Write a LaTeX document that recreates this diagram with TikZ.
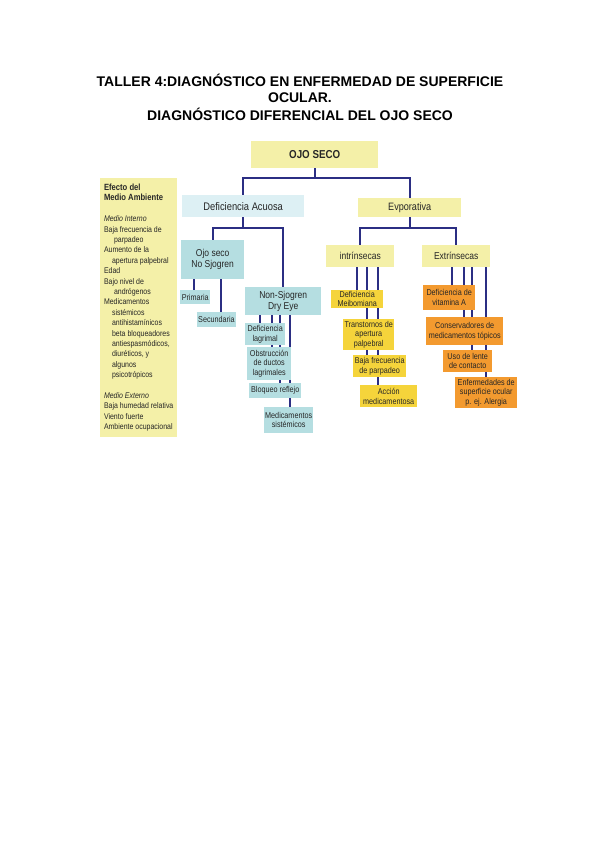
\documentclass[tikz,border=0pt]{standalone}
\usepackage{fontspec}
\setmainfont{Liberation Sans}
\newfontfamily\narrowsf[FakeStretch=0.85]{Liberation Sans}
\usepackage{tikz}
\usetikzlibrary{positioning,backgrounds}

\definecolor{paleyellow}{HTML}{F4F0A8}
\definecolor{paleblue}{HTML}{DDF0F4}
\definecolor{seablue}{HTML}{B5DEE1}
\definecolor{gold}{HTML}{F5D43B}
\definecolor{deeporange}{HTML}{F39A2F}
\definecolor{navy}{HTML}{2B2E83}

\begin{document}
\begin{tikzpicture}[
  x=1pt, y=-1pt,
  title/.style={anchor=base, font=\bfseries\fontsize{14}{16}\selectfont},
  box/.style={anchor=north west, inner sep=1pt, align=center, text=black!85},
  head/.style={box, fill=paleyellow, font=\narrowsf\fontsize{10}{12}\selectfont},
  acuo/.style={box, fill=paleblue, font=\narrowsf\fontsize{11}{12}\selectfont},
  sjo/.style={box, fill=seablue, font=\narrowsf\fontsize{10}{11}\selectfont},
  leafblue/.style={box, fill=seablue, font=\narrowsf\fontsize{8.5}{9.5}\selectfont},
  leafgold/.style={box, fill=gold, font=\narrowsf\fontsize{8.5}{9.5}\selectfont},
  leaforange/.style={box, fill=deeporange, font=\narrowsf\fontsize{8.5}{9.5}\selectfont},
  link/.style={draw=navy, line width=2pt}
]
\useasboundingbox (0,0) rectangle (600,848);

% titulo
\node[title] (title1) at (300,87) {TALLER 4:DIAGNÓSTICO EN ENFERMEDAD DE SUPERFICIE};
\node[title] (title2) at (300,102.5) {OCULAR.};
\node[title] (title3) at (300,121) {DIAGNÓSTICO DIFERENCIAL DEL OJO SECO};

% panel del medio ambiente
\node[box, fill=paleyellow, align=left, minimum width=77pt, minimum height=259pt,
  inner sep=3pt, anchor=north west, font=\narrowsf\fontsize{8.2}{10.4}\selectfont] (panel) at (100,178) {%
  {\bfseries\fontsize{9}{10.4}\selectfont Efecto del}\\
  {\bfseries\fontsize{9}{10.4}\selectfont Medio Ambiente}\\[10.4pt]
  \textit{Medio Interno}\\
  Baja frecuencia de\\
  \hspace*{10pt}parpadeo\\
  Aumento de la\\
  \hspace*{8pt}apertura palpebral\\
  Edad\\
  Bajo nivel de\\
  \hspace*{10pt}andrógenos\\
  Medicamentos\\
  \hspace*{8pt}sistémicos\\
  \hspace*{8pt}antihistamínicos\\
  \hspace*{8pt}beta bloqueadores\\
  \hspace*{8pt}antiespasmódicos,\\
  \hspace*{8pt}diuréticos, y\\
  \hspace*{8pt}algunos\\
  \hspace*{8pt}psicotrópicos\\[10.4pt]
  \textit{Medio Externo}\\
  Baja humedad relativa\\
  Viento fuerte\\
  Ambiente ocupacional};

% arbol
\node[head, font=\narrowsf\bfseries\fontsize{11.5}{13}\selectfont, minimum width=127pt, minimum height=27pt] (ojo) at (251,141) {OJO SECO};
\node[acuo, minimum width=122pt, minimum height=22pt] (acuosa) at (182,195) {Deficiencia Acuosa};
\node[head, font=\narrowsf\fontsize{10.7}{12}\selectfont, minimum width=103pt, minimum height=19pt] (evap) at (358,198) {Evporativa};
\node[head, minimum width=68pt, minimum height=22pt] (intr) at (326,245) {intrínsecas};
\node[head, minimum width=68pt, minimum height=22pt] (extr) at (422,245) {Extrínsecas};

\node[sjo, minimum width=63pt, minimum height=39pt] (ojosj) at (181,240) {Ojo seco\\No Sjogren};
\node[sjo, minimum width=76pt, minimum height=28pt] (nonsj) at (245,287) {Non-Sjogren\\Dry Eye};

\node[leafblue, minimum width=30pt, minimum height=14pt] (prim) at (180,290) {Primaria};
\node[leafblue, minimum width=38pt, minimum height=15pt] (secu) at (197,312) {Secundaria};

\node[leafblue, minimum width=40pt, minimum height=22pt] (deflag) at (245,323) {Deficiencia\\lagrimal};
\node[leafblue, minimum width=44pt, minimum height=33pt] (obst) at (247,347) {Obstrucción\\de ductos\\lagrimales};
\node[leafblue, minimum width=52pt, minimum height=15pt] (bloq) at (249,383) {Bloqueo reflejo};
\node[leafblue, minimum width=49pt, minimum height=26pt] (medsis) at (264,407) {Medicamentos\\sistémicos};

\node[leafgold, minimum width=52pt, minimum height=18pt] (meib) at (331,290) {Deficiencia\\Meibomiana};
\node[leafgold, minimum width=51pt, minimum height=31pt] (trans) at (343,319) {Transtornos de\\apertura\\palpebral};
\node[leafgold, minimum width=53pt, minimum height=22pt] (bajaf) at (353,355) {Baja frecuencia\\de parpadeo};
\node[leafgold, minimum width=57pt, minimum height=22pt] (accion) at (360,385) {Acción\\medicamentosa};

\node[leaforange, minimum width=52pt, minimum height=25pt] (vita) at (423,285) {Deficiencia de\\vitamina A};
\node[leaforange, minimum width=77pt, minimum height=28pt] (cons) at (426,317) {Conservadores de\\medicamentos tópicos};
\node[leaforange, minimum width=49pt, minimum height=22pt] (lente) at (443,350) {Uso de lente\\de contacto};
\node[leaforange, minimum width=62pt, minimum height=31pt] (enf) at (455,377) {Enfermedades de\\superficie ocular\\p. ej. Alergia};

\begin{scope}[on background layer]
\draw[link] (ojo.south) -- ++(0,10) -| (acuosa.north);
\draw[link] (ojo.south) -- ++(0,10) -| (evap.north);
\draw[link] (acuosa.south) -- ++(0,11) -| (ojosj.north);
\draw[link] (acuosa.south) -- ++(0,11) -| (nonsj.north);
\draw[link] (evap.south) -- ++(0,11) -| (intr.north);
\draw[link] (evap.south) -- ++(0,11) -| (extr.north);

% ojo seco no sjogren
\path (ojosj.south) ++(-19,0) coordinate (o1) ++(27,0) coordinate (o2);
\draw[link] (o1) -- (o1 |- prim.north);
\draw[link] (o2) -- (o2 |- secu.north);

% non-sjogren
\path (nonsj.south) ++(-23,0) coordinate (n1) ++(12,0) coordinate (n2)
  ++(8,0) coordinate (n3) ++(10,0) coordinate (n4);
\draw[link] (n1) -- (n1 |- deflag.north);
\draw[link] (n2) -- (n2 |- obst.north);
\draw[link] (n3) -- (n3 |- bloq.north);
\draw[link] (n4) -- (n4 |- medsis.north);

% intrinsecas
\path (intr.south) ++(-3,0) coordinate (i1) ++(10,0) coordinate (i2) ++(11,0) coordinate (i3);
\draw[link] (i1) -- (i1 |- meib.north);
\draw[link] (i2) -- (i2 |- trans.north);
\draw[link] (i2) -- (i2 |- bajaf.north);
\draw[link] (i3) -- (i3 |- accion.north);

% extrinsecas
\path (extr.south) ++(-4,0) coordinate (e1) ++(12,0) coordinate (e2)
  ++(8,0) coordinate (e3) ++(14,0) coordinate (e4);
\draw[link] (e1) -- (e1 |- vita.north);
\draw[link] (e2) -- (e2 |- cons.north);
\draw[link] (e3) -- (e3 |- lente.north);
\draw[link] (e4) -- (e4 |- enf.north);
\end{scope}
\end{tikzpicture}
\end{document}
